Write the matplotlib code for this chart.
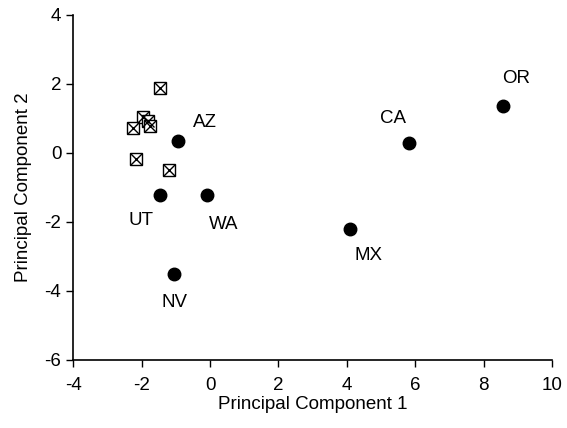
import matplotlib
matplotlib.use('Agg')
import matplotlib.pyplot as plt

# labelled populations (filled circles)
site_names = ["OR", "CA", "MX", "AZ", "UT", "WA", "NV"]
site_pc1 = [8.55, 5.8, 4.1, -0.95, -1.45, -0.1, -1.05]
site_pc2 = [1.35, 0.28, -2.2, 0.35, -1.22, -1.22, -3.52]
# label offsets in points (dx, dy)
label_dx = [10, -11, 13, 20, -14, 12, 0]
label_dy = [20, 18, -19, 13, -18, -21, -20]

# unlabelled group (crossed squares)
grp_pc1 = [-1.45, -1.95, -1.8, -1.75, -2.25, -2.15, -1.2]
grp_pc2 = [1.88, 1.05, 0.92, 0.78, 0.72, -0.17, -0.48]

plt.rcParams['font.family'] = ['Liberation Sans', 'DejaVu Sans']
plt.rcParams['axes.unicode_minus'] = False

fig = plt.figure(figsize=(5.67, 4.28), dpi=100)
ax = fig.add_axes([0.129, 0.159, 0.845, 0.806])

ax.plot(grp_pc1, grp_pc2, 's', ms=9, mfc='white', mec='black', mew=1.0, ls='none')
ax.plot(grp_pc1, grp_pc2, 'x', ms=9, color='black', mew=1.0, ls='none')
ax.plot(site_pc1, site_pc2, 'o', ms=9, color='black', ls='none')

for name, x, y, dx, dy in zip(site_names, site_pc1, site_pc2, label_dx, label_dy):
    ax.annotate(name, (x, y), xytext=(dx, dy), textcoords='offset points',
                ha='center', va='center', fontsize=13.5)

ax.set_xlim(-4, 10)
ax.set_ylim(-6, 4)
ax.set_xticks(range(-4, 11, 2))
ax.set_yticks(range(-6, 5, 2))
ax.spines['top'].set_visible(False)
ax.spines['right'].set_visible(False)
ax.spines['left'].set_linewidth(1.2)
ax.spines['bottom'].set_linewidth(1.2)
ax.tick_params(direction='out', length=5, width=1, labelsize=13.5)
ax.tick_params(axis='x', pad=7)
ax.set_xlabel('Principal Component 1', fontsize=13.5, labelpad=2)
ax.set_ylabel('Principal Component 2', fontsize=13.5, labelpad=9)

fig.savefig('out.png', dpi=100)
